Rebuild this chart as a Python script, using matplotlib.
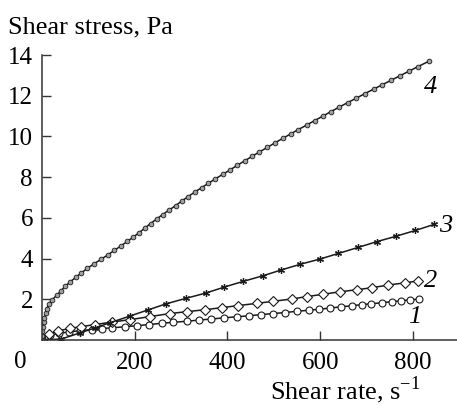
import matplotlib
matplotlib.use("Agg")
import matplotlib.pyplot as plt

plt.rcParams["font.family"] = "Liberation Serif"
plt.rcParams["mathtext.fontset"] = "custom"
plt.rcParams["mathtext.rm"] = "Liberation Serif"

# curve 1 (open circles)
rate1 = [0, 5, 17, 37, 59, 82, 107, 129, 150, 179, 204, 231, 258, 283, 312, 339, 365, 393,
         420, 447, 473, 499, 525, 549, 575, 598, 621, 645, 668, 690, 710, 733, 754, 775, 794, 813]
stress1 = [0, 0.08, 0.23, 0.33, 0.40, 0.46, 0.51, 0.56, 0.60, 0.65, 0.70, 0.76, 0.82, 0.87, 0.92,
           0.98, 1.03, 1.09, 1.14, 1.19, 1.25, 1.30, 1.35, 1.41, 1.46, 1.51, 1.57, 1.63, 1.68,
           1.74, 1.78, 1.83, 1.88, 1.93, 1.97, 2.01]

# curve 2 (diamonds)
rate2 = [0, 15, 35, 60, 85, 115, 150, 190, 233, 276, 312, 352, 388, 423, 463, 499, 540, 571,
         607, 643, 679, 712, 747, 783, 811]
stress2 = [0, 0.30, 0.45, 0.57, 0.66, 0.76, 0.88, 1.00, 1.15, 1.30, 1.39, 1.49, 1.59, 1.69, 1.80,
           1.90, 2.02, 2.13, 2.25, 2.37, 2.47, 2.57, 2.70, 2.81, 2.90]

# curve 3 (asterisks)
rate3 = [0, 42, 82, 115, 147, 190, 229, 268, 311, 354, 393, 434, 477, 516, 557, 600, 639, 682,
         722, 764, 805, 846]
stress3 = [0, 0.05, 0.35, 0.60, 0.85, 1.18, 1.48, 1.78, 2.05, 2.31, 2.60, 2.88, 3.16, 3.44, 3.72,
           3.98, 4.25, 4.55, 4.83, 5.10, 5.38, 5.68]

# curve 4 (small filled circles)
rate4 = [0, 1, 1, 2, 4, 5, 8, 10, 15, 22, 32, 41, 50, 61, 73, 85, 98, 112, 127, 142, 156, 170,
         184, 197, 210, 222, 234, 247, 260, 274, 288, 301, 315, 329, 344, 359, 374, 390, 406,
         421, 437, 453, 469, 486, 502, 519, 536, 553, 571, 588, 606, 623, 641, 659, 678, 696,
         715, 734, 753, 772, 791, 810, 835]
stress4 = [0, 0.22, 0.44, 0.66, 0.88, 1.1, 1.32, 1.54, 1.76, 1.98, 2.2, 2.42, 2.64, 2.86, 3.08,
           3.3, 3.52, 3.74, 3.96, 4.18, 4.4, 4.62, 4.84, 5.06, 5.28, 5.5, 5.72, 5.94, 6.16, 6.38,
           6.6, 6.82, 7.04, 7.26, 7.48, 7.7, 7.92, 8.14, 8.36, 8.58, 8.8, 9.02, 9.24, 9.46, 9.68,
           9.9, 10.12, 10.34, 10.56, 10.78, 11, 11.22, 11.44, 11.66, 11.88, 12.1, 12.32, 12.54,
           12.76, 12.98, 13.2, 13.42, 13.7]

curve_labels = ["1", "2", "3", "4"]
label_pos = [(803, 1.13), (839, 2.90), (870, 5.60), (837, 12.43)]

x_ticks = [200, 400, 600, 800]
y_ticks = [2, 4, 6, 8, 10, 12, 14]

W, H = 457, 405
fig = plt.figure(figsize=(W / 100, H / 100), dpi=100)
ax = fig.add_axes([42 / W, 65 / H, 415 / W, 285 / H])

lc = "#1a1a1a"
ax.plot(rate1, stress1, "-", color=lc, lw=1.1, marker="o", ms=5, mfc="white", mec=lc, mew=0.8)
ax.plot(rate2, stress2, "-", color=lc, lw=1.1, marker="D", ms=5.5, mfc="white", mec=lc, mew=0.8)
ax.plot(rate3, stress3, "-", color=lc, lw=1.1, marker=(6, 2, 0), ms=5, mec=lc, mew=0.9)
ax.plot(rate4, stress4, "-", color=lc, lw=1.1, marker="o", ms=3.4, mfc="#a0a0a0", mec=lc, mew=0.6)

for lab, (x, y) in zip(curve_labels, label_pos):
    ax.text(x, y, lab, fontsize=19, style="italic", ha="center", va="center")

ax.set_xlim(0, 895)
ax.set_ylim(0, 14)
ax.set_xticks(x_ticks)
ax.set_yticks(y_ticks)
ax.tick_params(direction="in", length=6.5, width=1.0, labelsize=18, color="#333333")
ax.tick_params(axis="y", pad=6.5)
ax.tick_params(axis="x", pad=8.5)
for s in ["top", "right"]:
    ax.spines[s].set_visible(False)
for s in ["left", "bottom"]:
    ax.spines[s].set_linewidth(1.1)
    ax.spines[s].set_color("#333333")

# shared origin label in the corner
ax.annotate("0", xy=(0, 0), xytext=(-15.5, -15.5), textcoords="offset points",
            ha="center", va="center", fontsize=18)

fig.text(8 / W, 1 - 33 / H, "Shear stress, Pa", fontsize=19, va="baseline", ha="left")
fig.text(270 / W, 1 - 399 / H, "Shear rate, s$^{-1}$", fontsize=19, va="baseline", ha="left")

fig.savefig("out.png", dpi=100)
